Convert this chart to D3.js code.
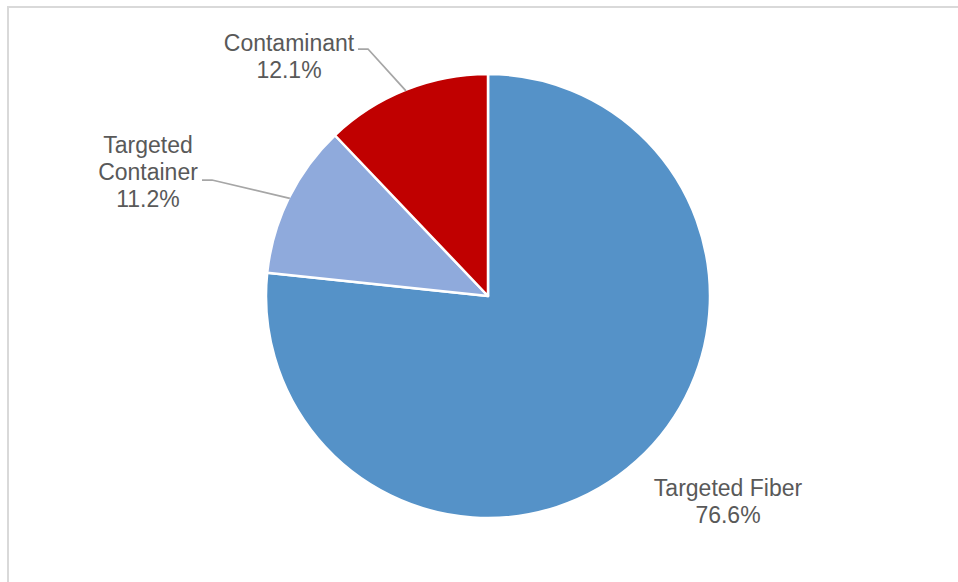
<!DOCTYPE html>
<html>
<head>
<meta charset="utf-8">
<script src="https://cdn.jsdelivr.net/npm/d3@7"></script>
<style>
  html, body { margin: 0; padding: 0; background: #fff; }
  svg { display: block; }
</style>
</head>
<body>
<svg id="chart" width="958" height="582"></svg>
<script>
// Share of material by category (percent)
const categories = ["Targeted Fiber", "Targeted Container", "Contaminant"];
const values = [76.6, 11.2, 12.1];
const colors = ["#5592C8", "#8FAADC", "#C00000"];
// Label text lines per slice
const labelLines = [["Targeted Fiber"], ["Targeted", "Container"], ["Contaminant"]];

const width = 958, height = 582;
const cx = 488, cy = 296, radius = 222;

const svg = d3.select("#chart");

// Chart frame
svg.append("rect")
  .attr("x", 8).attr("y", 7)
  .attr("width", 970).attr("height", 600)
  .attr("fill", "#fff")
  .attr("stroke", "#d9d9d9")
  .attr("stroke-width", 2);

const data = categories.map((c, i) => ({ name: c, value: values[i], color: colors[i], lines: labelLines[i] }));

const pie = d3.pie().sort(null).value(d => d.value);
const arcs = pie(data);
const arc = d3.arc().innerRadius(0).outerRadius(radius);

const g = svg.append("g").attr("transform", `translate(${cx},${cy})`);

g.selectAll("path.slice")
  .data(arcs)
  .join("path")
  .attr("class", "slice")
  .attr("d", arc)
  .attr("fill", d => d.data.color)
  .attr("stroke", "#fff")
  .attr("stroke-width", 2.5)
  .attr("stroke-linejoin", "round");

// Label placement (center of text block) and leader lines
const labelPos = [
  { x: 728, y: 501, leader: false },
  { x: 148, y: 172, leader: true, anchor: [202, 180], elbow: [212, 180], r: 0.995 },
  { x: 289, y: 56, leader: true, anchor: [358, 49], elbow: [368, 49], r: 0.995 }
];

const fontFamily = "'Liberation Sans', Arial, sans-serif";
const fontSize = 23;
const lineH = 27;

arcs.forEach((a, i) => {
  const p = labelPos[i];
  const lines = a.data.lines.concat([d3.format(".1f")(a.data.value) + "%"]);
  if (p.leader) {
    // leader ends on the slice edge at the arc's mid angle
    const mid = (a.startAngle + a.endAngle) / 2;
    const ex = cx + Math.sin(mid) * radius * p.r;
    const ey = cy - Math.cos(mid) * radius * p.r;
    svg.append("polyline")
      .attr("points", [p.anchor, p.elbow, [ex, ey]].map(q => q.join(",")).join(" "))
      .attr("fill", "none")
      .attr("stroke", "#a6a6a6")
      .attr("stroke-width", 1.75);
  }
  const top = p.y - (lines.length - 1) * lineH / 2;
  const t = svg.append("text")
    .attr("text-anchor", "middle")
    .attr("font-family", fontFamily)
    .attr("font-size", fontSize)
    .attr("fill", "#595959");
  lines.forEach((ln, k) => {
    t.append("tspan")
      .attr("x", p.x)
      .attr("y", top + k * lineH)
      .attr("dy", "0.35em")
      .text(ln);
  });
});
</script>
</body>
</html>
